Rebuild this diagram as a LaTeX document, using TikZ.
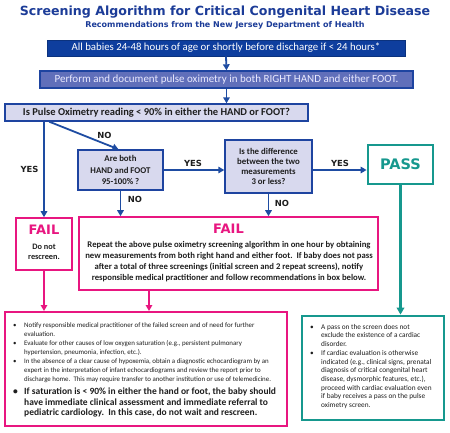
\documentclass[tikz,border=0pt]{standalone}
\usepackage{fontspec}
\setmainfont{Carlito}
\newfontfamily\dvs{DejaVu Sans}
\usetikzlibrary{arrows.meta}
\definecolor{tblue}{RGB}{28,60,152}
\definecolor{dblue}{RGB}{14,62,158}
\definecolor{mblue}{RGB}{96,111,186}
\definecolor{eblue}{RGB}{30,68,160}
\definecolor{lav}{RGB}{216,217,238}
\definecolor{ablue}{RGB}{30,76,162}
\definecolor{fpink}{RGB}{232,22,128}
\definecolor{pteal}{RGB}{22,152,142}
\definecolor{ink}{RGB}{30,30,30}
\tikzset{
  box/.style={rectangle, inner sep=0pt, align=center},
  decbox/.style={box, draw=eblue, line width=1.4pt, fill=lav, text=ink},
  pinkbox/.style={box, draw=fpink, line width=1.6pt, fill=white},
  tealbox/.style={box, draw=pteal, line width=2.8pt, fill=white},
  barrow/.style={draw=ablue, line width=1.8pt, -{Triangle[width=6.5pt,length=6pt]}},
  parrow/.style={draw=fpink, line width=1.8pt, -{Triangle[width=6.5pt,length=6pt]}},
  tarrow/.style={draw=pteal, line width=2.6pt, -{Triangle[width=7.5pt,length=7pt]}},
  lbl/.style={font=\dvs\bfseries\fontsize{8.4}{9}\selectfont, text=ink, inner sep=0pt},
  bigword/.style={font=\dvs\bfseries\fontsize{13}{14}\selectfont, inner sep=0pt},
}
\begin{document}
\begin{tikzpicture}[x=1pt,y=-1pt]
\useasboundingbox[fill=white] (0,0) rectangle (450,432);
% titles
\node[font=\dvs\bfseries\fontsize{12.6}{14}\selectfont, text=tblue, inner sep=0pt] (title) at (225,12) {Screening Algorithm for Critical Congenital Heart Disease};
\node[font=\dvs\bfseries\fontsize{8}{9}\selectfont, text=tblue, inner sep=0pt] (subtitle) at (225,25) {Recommendations from the New Jersey Department of Health};
% top boxes
\node[box, fill=dblue, draw=dblue!80!black, line width=0.8pt, minimum width=358, minimum height=16, text=white, font=\fontsize{10.8}{12}\selectfont] (b1) at (226,48) {All babies 24-48 hours of age or shortly before discharge if < 24 hours*};
\node[box, fill=mblue, draw=eblue, line width=1.4pt, minimum width=373, minimum height=17, text=white!92!blue, font=\fontsize{11}{12}\selectfont] (b2) at (226.5,79.5) {Perform and document pulse oximetry in both RIGHT HAND and either FOOT.};
\node[decbox, minimum width=303, minimum height=17, font=\bfseries\fontsize{10.5}{12}\selectfont] (b3) at (156.5,112.5) {Is Pulse Oximetry reading < 90\% in either the HAND or FOOT?};
% decisions
\node[decbox, minimum width=85, minimum height=40, font=\bfseries\fontsize{8.8}{11.2}\selectfont] (both) at (120.5,170) {Are both\\HAND and FOOT\\95-100\% ?};
\node[decbox, minimum width=87, minimum height=53, font=\bfseries\fontsize{8.8}{10.2}\selectfont] (diff) at (268.5,166.5) {Is the difference\\between the two\\measurements\\3 or less?};
\node[tealbox, minimum width=65, minimum height=39, text=pteal, font=\dvs\bfseries\fontsize{14.5}{16}\selectfont] (pass) at (400.5,164.5) {PASS};
% fail boxes
\node[pinkbox, minimum width=56, minimum height=52] (fails) at (44,244) {};
\node[bigword, text=fpink] (failsw) at (44,230) {FAIL};
\node[font=\bfseries\fontsize{8.3}{10}\selectfont, text=ink, align=center, inner sep=0pt] (donot) at (44,252) {Do not\\rescreen.};
\node[pinkbox, minimum width=299, minimum height=73] (failb) at (228.5,253.5) {};
\node[bigword, text=fpink] (failbw) at (228.5,229) {FAIL};
\node[font=\bfseries\fontsize{8.7}{11}\selectfont, text=ink, align=center, inner sep=0pt] (failtxt) at (229,262) {Repeat the above pulse oximetry screening algorithm in one hour by obtaining\\new measurements from both right hand and either foot.\ \ If baby does not pass\\after a total of three screenings (initial screen and 2 repeat screens), notify\\responsible medical practitioner and follow recommendations in box below.};
% bottom boxes
\node[pinkbox, line width=2pt, minimum width=282, minimum height=114] (botl) at (146,369) {};
\node[anchor=north west, inner sep=0pt, text=ink, font=\fontsize{6.9}{9}\selectfont] (botltxt) at (13,320.5) {%
\begin{tabular}{@{}p{11pt}@{}l@{}}
\textbullet & Notify responsible medical practitioner of the failed screen and of need for further\\
 & evaluation.\\
\textbullet & Evaluate for other causes of low oxygen saturation (e.g., persistent pulmonary\\
 & hypertension, pneumonia, infection, etc.).\\
\textbullet & In the absence of a clear cause of hypoxemia, obtain a diagnostic echocardiogram by an\\
 & expert in the interpretation of infant echocardiograms and review the report prior to\\
 & discharge home.\ \ This may require transfer to another institution or use of telemedicine.
\end{tabular}};
\node[anchor=north west, inner sep=0pt, text=ink, font=\bfseries\fontsize{9.5}{10.6}\selectfont] (botlbold) at (13,386.8) {%
\begin{tabular}{@{}p{11pt}@{}l@{}}
\textbullet & If saturation is < 90\% in either the hand or foot, the baby should\\
 & have immediate clinical assessment and immediate referral to\\
 & pediatric cardiology.\ \ In this case, do not wait and rescreen.
\end{tabular}};
\node[tealbox, minimum width=142, minimum height=104] (botr) at (373,368) {};
\node[anchor=north west, inner sep=0pt, text=ink, font=\fontsize{7.3}{8.7}\selectfont] (botrtxt) at (310,323) {%
\begin{tabular}{@{}p{11pt}@{}l@{}}
\textbullet & A pass on the screen does not\\
 & exclude the existence of a cardiac\\
 & disorder.\\
\textbullet & If cardiac evaluation is otherwise\\
 & indicated (e.g., clinical signs, prenatal\\
 & diagnosis of critical congenital heart\\
 & disease, dysmorphic features, etc.),\\
 & proceed with cardiac evaluation even\\
 & if baby receives a pass on the pulse\\
 & oximetry screen.
\end{tabular}};
% connectors
\draw[barrow] (b1.south) -- (b2.north);
\draw[barrow] (b2.south) -- (b2.south |- b3.north);
\draw[barrow] (b3.south -| fails.north) -- (fails.north);
\coordinate (nostart) at ([xshift=45pt]b3.south west);
\draw[barrow] (nostart) -- ([xshift=-2pt]both.north);
\draw[barrow] (both.east) -- (both.east -| diff.west);
\draw[barrow] (diff.east |- both.east) -- (pass.west |- both.east);
\draw[barrow] (both.south) -- (both.south |- failb.north);
\draw[barrow] (diff.south) -- (diff.south |- failb.north);
\draw[parrow] (fails.south) -- (fails.south |- botl.north);
\coordinate (fbout) at ([xshift=-79.5pt]failb.south);
\draw[parrow] (fbout) -- (fbout |- botl.north);
\draw[tarrow] (pass.south) -- (pass.south |- botr.north);
% labels
\node[lbl] (yes1) at (29.5,169) {YES};
\node[lbl] (no1) at (104.5,135) {NO};
\node[lbl] (yes2) at (193,163) {YES};
\node[lbl] (yes3) at (340,163) {YES};
\node[lbl] (no2) at (135,199) {NO};
\node[lbl] (no3) at (282,203) {NO};
\end{tikzpicture}
\end{document}
